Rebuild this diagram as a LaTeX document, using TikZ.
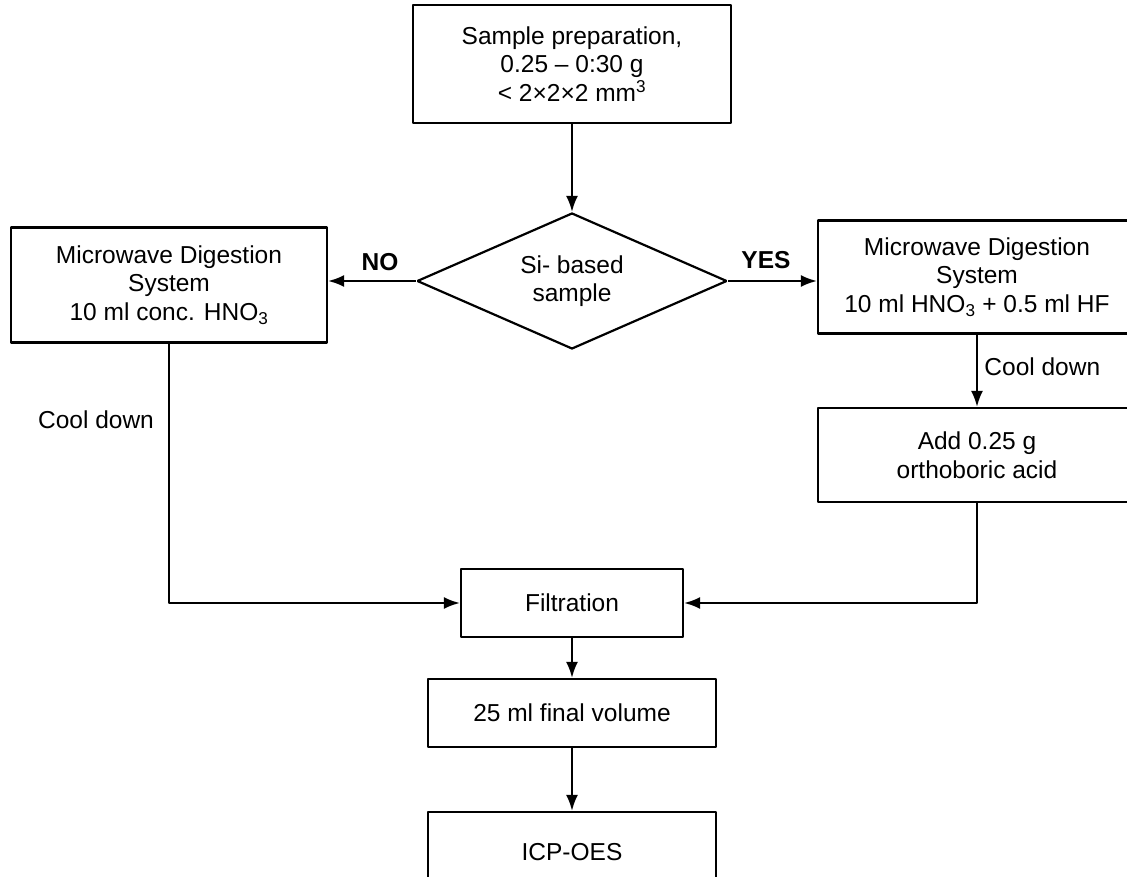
\documentclass[tikz,border=0pt]{standalone}
\usepackage{fontspec}
\setmainfont{Liberation Sans}
\usetikzlibrary{shapes.geometric,arrows.meta}

\begin{document}
\def\myxscale{1pt}
\def\myyscale{-1pt}

\begin{tikzpicture}[x=\myxscale, y=\myyscale, line join=bevel,
>={Latex[length=16pt,width=12pt]}, line width=2.2pt,
font=\fontsize{24.5}{28.5}\selectfont,
stepbox/.style={draw, rectangle, align=center, inner sep=0pt},
]
\path[use as bounding box, fill=white] (0,0) rectangle (1127,877);

\node[stepbox, minimum width=318pt, minimum height=118pt] (prep) at (572,64)
  {Sample preparation,\\0.25 -- 0:30 g\\< 2×2×2 mm\textsuperscript{3}};
\node[draw, diamond, aspect=2.3, inner sep=0pt, align=center,
  minimum width=310pt, minimum height=136pt] (si) at (572,281) {Si- based\\sample};
\node[stepbox, minimum width=316pt, minimum height=115pt] (nohf) at (169,285)
  {Microwave Digestion\\System\\10 ml conc. HNO\textsubscript{3}};
\node[stepbox, minimum width=318pt, minimum height=113pt] (hf) at (977,277)
  {Microwave Digestion\\System\\10 ml HNO\textsubscript{3} + 0.5 ml HF};
\node[stepbox, minimum width=318pt, minimum height=94pt] (boric) at (977,455)
  {Add 0.25 g\\orthoboric acid};
\node[stepbox, minimum width=222pt, minimum height=68pt] (filt) at (572,603) {Filtration};
\node[stepbox, minimum width=288pt, minimum height=68pt] (vol) at (572,713) {25 ml final volume};
\node[stepbox, minimum width=288pt, minimum height=80pt] (icp) at (572,852) {ICP-OES};

\node(no) at (380,262) {\textbf{NO}};
\node(yes) at (766,260) {\textbf{YES}};
\node(cooll) at (96,420) {Cool down};
\node[right](coolr) at (980,367) {Cool down};

\draw[->] (prep) -- (si);
\draw[->] (si.west) -- (si.west -| nohf.east);
\draw[->] (si.east) -- (si.east -| hf.west);
\draw[->] (hf) -- (boric);
\draw[->] (nohf.south) |- (filt.west);
\draw[->] (boric.south) |- (filt.east);
\draw[->] (filt) -- (vol);
\draw[->] (vol) -- (icp);
\end{tikzpicture}
\end{document}
